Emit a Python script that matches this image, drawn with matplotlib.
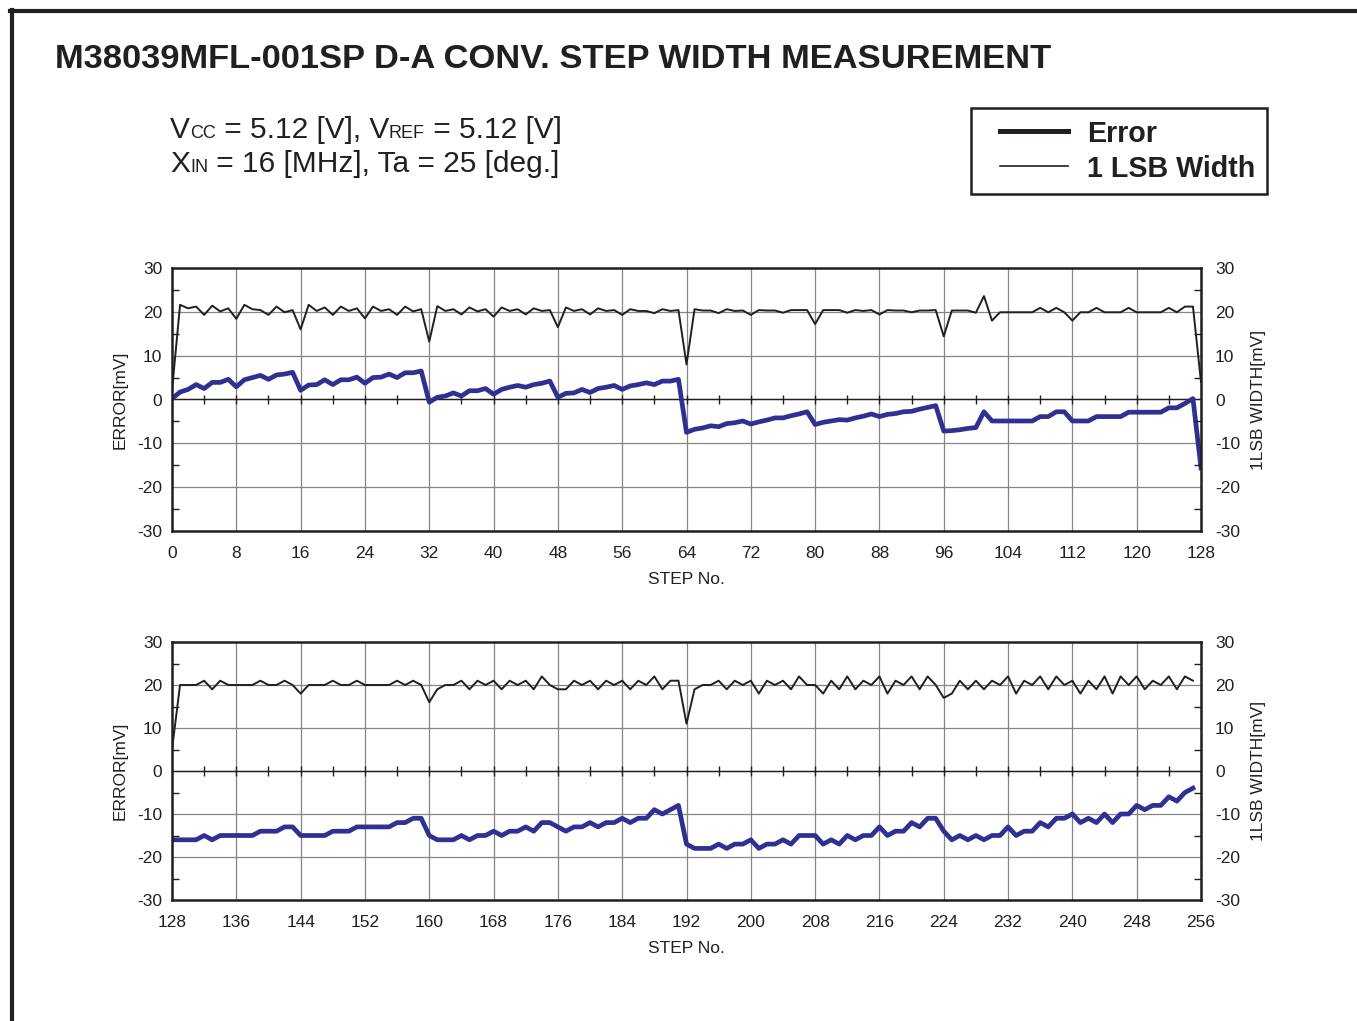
# %% Modules

import numpy as np
import matplotlib
matplotlib.use("Agg")
import matplotlib.pyplot as plt
from matplotlib.lines import Line2D
from matplotlib.patches import Rectangle
from matplotlib.ticker import MultipleLocator

# %% Data

title = "M38039MFL-001SP D-A CONV. STEP WIDTH MEASUREMENT"
legend_labels = ["Error", "1 LSB Width"]

steps_low = np.arange(0, 129)
width_low = [
    2.0, 21.6, 20.8, 21.2, 19.3, 21.4, 20.1, 20.8, 18.4, 21.6, 20.6, 20.4, 19.3, 21.2, 19.9, 20.4,
    16.0, 21.6, 20.2, 21.0, 19.3, 21.2, 20.2, 20.8, 18.5, 21.2, 20.2, 20.6, 19.3, 21.2, 20.1, 20.6,
    13.2, 21.3, 20.2, 20.6, 19.4, 21.0, 20.1, 20.6, 18.9, 21.0, 20.2, 20.6, 19.4, 20.8, 20.2, 20.4,
    16.5, 21.0, 20.2, 20.6, 19.4, 20.8, 20.2, 20.4, 19.3, 20.6, 20.2, 20.2, 19.7, 20.6, 20.2, 20.4,
    8.0, 20.6, 20.3, 20.3, 19.7, 20.6, 20.2, 20.3, 19.3, 20.4, 20.3, 20.3, 19.8, 20.4, 20.4, 20.4,
    17.2, 20.4, 20.4, 20.4, 19.8, 20.4, 20.2, 20.4, 19.4, 20.4, 20.3, 20.3, 19.9, 20.3, 20.3, 20.4,
    14.4, 20.3, 20.3, 20.3, 19.8, 23.6, 18.0, 19.9, 19.9, 19.9, 19.9, 19.9, 20.9, 19.9, 20.9, 19.9,
    18.0, 19.9, 19.9, 20.9, 19.9, 19.9, 19.9, 20.9, 19.9, 19.9, 19.9, 19.9, 20.9, 19.9, 21.2, 21.2,
    4.0,
]
error_low = [
    0.2, 1.7, 2.3, 3.4, 2.5, 3.9, 3.9, 4.6, 2.9, 4.5, 5.0, 5.5, 4.6, 5.6, 5.8, 6.2,
    2.1, 3.3, 3.4, 4.5, 3.4, 4.5, 4.5, 5.1, 3.7, 5.0, 5.1, 5.8, 5.0, 6.1, 6.1, 6.5,
    -0.6, 0.5, 0.8, 1.5, 0.8, 2.0, 2.0, 2.5, 1.2, 2.3, 2.8, 3.2, 2.8, 3.4, 3.7, 4.2,
    0.5, 1.4, 1.5, 2.3, 1.6, 2.5, 2.8, 3.2, 2.3, 3.1, 3.4, 3.8, 3.4, 4.2, 4.2, 4.6,
    -7.5, -6.8, -6.5, -6.0, -6.2, -5.5, -5.3, -4.9, -5.6, -5.1, -4.7, -4.2, -4.2, -3.7, -3.3, -2.8,
    -5.7, -5.2, -4.9, -4.6, -4.7, -4.2, -3.8, -3.3, -3.9, -3.4, -3.2, -2.8, -2.7, -2.2, -1.8, -1.4,
    -7.2, -7.1, -6.9, -6.6, -6.4, -2.8, -4.9, -4.9, -4.9, -4.9, -4.9, -4.9, -3.9, -3.9, -2.8, -2.8,
    -4.9, -4.9, -4.9, -3.9, -3.9, -3.9, -3.9, -2.9, -2.9, -2.9, -2.9, -2.9, -1.9, -1.9, -0.9, 0.2,
    -15.6,
]

steps_high = np.arange(128, 256)
width_high = [
    5, 20, 20, 20, 21, 19, 21, 20, 20, 20, 20, 21, 20, 20, 21, 20,
    18, 20, 20, 20, 21, 20, 20, 21, 20, 20, 20, 20, 21, 20, 21, 20,
    16, 19, 20, 20, 21, 19, 21, 20, 21, 19, 21, 20, 21, 19, 22, 20,
    19, 19, 21, 20, 21, 19, 21, 20, 21, 19, 21, 20, 22, 19, 21, 21,
    11, 19, 20, 20, 21, 19, 21, 20, 21, 18, 21, 20, 21, 19, 22, 20,
    20, 18, 21, 19, 22, 19, 21, 20, 22, 18, 21, 20, 22, 19, 22, 20,
    17, 18, 21, 19, 21, 19, 21, 20, 22, 18, 21, 20, 22, 19, 22, 20,
    21, 18, 21, 19, 22, 18, 22, 20, 22, 19, 21, 20, 22, 19, 22, 21,
]
error_high = [
    -16, -16, -16, -16, -15, -16, -15, -15, -15, -15, -15, -14, -14, -14, -13, -13,
    -15, -15, -15, -15, -14, -14, -14, -13, -13, -13, -13, -13, -12, -12, -11, -11,
    -15, -16, -16, -16, -15, -16, -15, -15, -14, -15, -14, -14, -13, -14, -12, -12,
    -13, -14, -13, -13, -12, -13, -12, -12, -11, -12, -11, -11, -9, -10, -9, -8,
    -17, -18, -18, -18, -17, -18, -17, -17, -16, -18, -17, -17, -16, -17, -15, -15,
    -15, -17, -16, -17, -15, -16, -15, -15, -13, -15, -14, -14, -12, -13, -11, -11,
    -14, -16, -15, -16, -15, -16, -15, -15, -13, -15, -14, -14, -12, -13, -11, -11,
    -10, -12, -11, -12, -10, -12, -10, -10, -8, -9, -8, -8, -6, -7, -5, -4,
]

# %% Style

plt.rcParams["font.family"] = ["Liberation Sans", "DejaVu Sans"]
plt.rcParams["axes.unicode_minus"] = False

ink = "#231f20"
blue = "#2e3192"
grid_grey = "#858585"
tick_size = 12.5

W, H = 1357, 1021
fig = plt.figure(figsize=(W / 100, H / 100), dpi=100)


def fx(px):
    return px / W


def fy(py):
    return 1 - py / H


# %% Panels

def draw_panel(top, bottom, steps, width, error, xlim):
    ax = fig.add_axes([fx(172), fy(bottom), fx(1201) - fx(172), fy(top) - fy(bottom)])
    ax.set_xlim(*xlim)
    ax.set_ylim(-30, 30)
    ax.set_xticks(np.arange(xlim[0], xlim[1] + 1, 8))
    ax.set_yticks(np.arange(-30, 31, 10))
    ax.yaxis.set_minor_locator(MultipleLocator(5))
    ax.tick_params(axis = "both", which = "major", length = 0, labelsize = tick_size, labelcolor = ink)
    ax.tick_params(axis = "x", pad = 11)
    ax.tick_params(axis = "y", pad = 7)
    ax.tick_params(axis = "y", which = "minor", direction = "in", length = 5, width = 1, color = ink)
    ax.grid(True, color = grid_grey, lw = 0.9)
    ax.set_axisbelow(True)

    # zero line with small step marks every 4 codes
    ax.axhline(0, color = ink, lw = 1.0, zorder = 2)
    ax.vlines(np.arange(xlim[0] + 4, xlim[1], 4), -1.1, 1.1, color = ink, lw = 1.0, zorder = 2)

    ax.plot(steps, width, color = ink, lw = 1.4, zorder = 4)
    ax.plot(steps, error, color = blue, lw = 3.4, zorder = 5)

    for spine in ax.spines.values():
        spine.set_linewidth(1.8)
        spine.set_color(ink)
        spine.set_zorder(6)

    ax.set_xlabel("STEP No.", fontsize = tick_size, color = ink, labelpad = 8)
    ax.set_ylabel("ERROR[mV]", fontsize = tick_size, color = ink, labelpad = 7)

    ax2 = ax.twinx()
    ax2.set_ylim(-30, 30)
    ax2.set_yticks(np.arange(-30, 31, 10))
    ax2.yaxis.set_minor_locator(MultipleLocator(5))
    ax2.tick_params(axis = "y", which = "major", length = 0, labelsize = tick_size, labelcolor = ink, pad = 10)
    ax2.tick_params(axis = "y", which = "minor", direction = "in", length = 5, width = 1, color = ink)
    for spine in ax2.spines.values():
        spine.set_visible(False)
    ax2.set_ylabel("1LSB WIDTH[mV]", fontsize = tick_size, color = ink, labelpad = 8)
    return ax


draw_panel(268, 531, steps_low, width_low, error_low, (0, 128))
draw_panel(642, 900, steps_high, width_high, error_high, (128, 256))

# %% Header text

fig.text(fx(55), fy(68), title, fontsize = 24.8, fontweight = "bold", color = ink, va = "baseline")

renderer = fig.canvas.get_renderer()


def chain(x_px, y_px, parts):
    x = fx(x_px)
    for text, size in parts:
        t = fig.text(x, fy(y_px), text, fontsize = size, color = ink, va = "baseline", ha = "left")
        x = t.get_window_extent(renderer).x1 / fig.bbox.width


chain(170, 138, [("V", 21.5), ("CC", 13), (" = 5.12 [V], V", 21.5), ("REF", 13), (" = 5.12 [V]", 21.5)])
chain(170, 172, [("X", 21.5), ("IN", 13), (" = 16 [MHz], Ta = 25 [deg.]", 21.5)])

# %% Legend box

fig.add_artist(Rectangle((fx(971), fy(194)), fx(1267) - fx(971), fy(108) - fy(194),
                         transform = fig.transFigure, fill = False, edgecolor = ink, lw = 1.8))
for label, lw, ypx in zip(legend_labels, [3.6, 1.2], [131, 166]):
    fig.add_artist(Line2D([fx(1000), fx(1068)], [fy(ypx), fy(ypx)], transform = fig.transFigure,
                          color = ink, lw = lw))
    fig.text(fx(1087), fy(ypx), label, fontsize = 20.6, fontweight = "bold", color = ink, va = "center_baseline")

# %% Page border

fig.add_artist(Line2D([fx(10), fx(1357)], [fy(11), fy(11)], transform = fig.transFigure, color = ink, lw = 3))
fig.add_artist(Line2D([fx(12), fx(12)], [fy(10), fy(1021)], transform = fig.transFigure, color = ink, lw = 3))

# %% Save

fig.savefig("out.png", dpi = 100)
